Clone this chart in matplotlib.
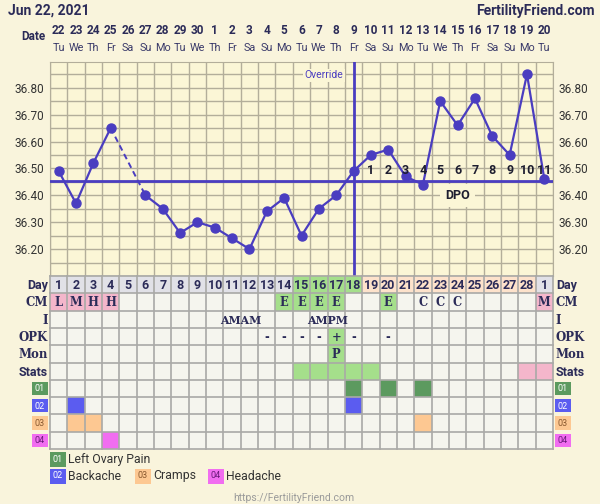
import numpy as np
import matplotlib
matplotlib.use("Agg")
import matplotlib.pyplot as plt
from matplotlib.patches import Rectangle
from matplotlib.transforms import blended_transform_factory

# ---------------- data ----------------
chart_date = "Jun 22, 2021"
site = "FertilityFriend.com"
url_text = "https://FertilityFriend.com"
dates = ["22", "23", "24", "25", "26", "27", "28", "29", "30", "1", "2", "3", "4", "5", "6",
         "7", "8", "9", "10", "11", "12", "13", "14", "15", "16", "17", "18", "19", "20"]
weekdays = ["Tu", "We", "Th", "Fr", "Sa", "Su", "Mo", "Tu", "We", "Th", "Fr", "Sa", "Su", "Mo", "Tu",
            "We", "Th", "Fr", "Sa", "Su", "Mo", "Tu", "We", "Th", "Fr", "Sa", "Su", "Mo", "Tu"]
cycle_days = [str(d) for d in range(1, 29)] + ["1"]
temps = [36.49, 36.37, 36.52, 36.65, np.nan, 36.40, 36.35, 36.26, 36.30, 36.28, 36.24, 36.20,
         36.34, 36.39, 36.25, 36.35, 36.40, 36.49, 36.55, 36.57, 36.47, 36.44, 36.75, 36.66,
         36.76, 36.62, 36.55, 36.85, 36.46]
coverline = 36.455
ovulation_day = 18
temp_ticks = [36.20, 36.30, 36.40, 36.50, 36.60, 36.70, 36.80]

day_phase = ["pre"] * 14 + ["fertile"] * 4 + ["post"] * 10 + ["pre"]
cm_values = {1: "L", 2: "M", 3: "H", 4: "H", 14: "E", 15: "E", 16: "E", 17: "E", 20: "E",
             22: "C", 23: "C", 24: "C", 29: "M"}
intercourse = {11: "AM", 12: "AM", 16: "AM", 17: "PM"}
opk = {13: "-", 14: "-", 15: "-", 16: "-", 17: "+", 18: "-", 20: "-"}
monitor = {17: "P"}
stats_green = [15, 16, 17, 18, 19]
stats_pink = [28, 29]

symptom_codes = ["01", "02", "03", "04"]
symptom_names = ["Left Ovary Pain", "Backache", "Cramps", "Headache"]
symptom_days = [[18, 20, 22], [2, 18], [2, 3, 22], [4]]
symptom_colors = ["#5c9a5f", "#5b5cf0", "#fdc892", "#f16df0"]
symptom_text_colors = ["white", "white", "#8a5a30", "#6a1a7a"]

row_labels = ["Day", "CM", "I", "OPK", "Mon", "Stats"]
row_fonts = ["sans", "serif", "serif", "serif", "serif", "sans"]

# ---------------- style ----------------
W, H = 600, 504
BG = "#f9f4dc"
PLOT_BG = "#fbf6d6"
LINE = "#4a3dc0"
NAVY = "#2b2b58"
GRID = "#b3ae9a"
CELL = "#f5f5ee"
CELL_GRID = "#a9a9a6"
PINK = "#f4b6cb"
GREEN = "#a5df8b"
PEACH = "#fde2cb"
GRAY = "#e1e1e7"
SANS = ["Roboto", "DejaVu Sans"]
SERIF = ["DejaVu Serif"]

plt.rcParams["font.family"] = SANS

def fx(px):
    return px / W

def fy(py):
    return 1 - py / H

fig = plt.figure(figsize=(W / 100, H / 100), dpi=100, facecolor=BG)
n = len(temps)

# ---------------- temperature chart ----------------
ax = fig.add_axes([fx(50), fy(276), 503 / W, 214 / H])
ax.set_facecolor(PLOT_BG)
ymin = 36.10
ymax = ymin + 0.1 * 214 / 26.9
ax.set_xlim(0, n)
ax.set_ylim(ymin, ymax)
for xv in range(n + 1):
    ax.axvline(xv, color=GRID, lw=1.0, zorder=1)
for yv in np.arange(36.10, 36.89, 0.05):
    ax.axhline(yv, color=GRID, lw=1.0, zorder=1)
for s in ax.spines.values():
    s.set_color(GRID)
ax.set_xticks([])
ax.set_yticks(temp_ticks)
ax.set_yticklabels([f"{t:.2f}" for t in temp_ticks])
ax.tick_params(axis="y", length=0, pad=4, labelsize=8.5, labelcolor="#333333",
               labelleft=True, labelright=True)

xs = np.arange(n) + 0.5
t = np.array(temps)
ax.axhline(coverline, color=LINE, lw=2.0, zorder=3)
ax.plot(xs, t, color=LINE, lw=1.6, zorder=4)
valid = np.where(~np.isnan(t))[0]
for a, b in zip(valid[:-1], valid[1:]):
    if b - a > 1:
        ax.plot([xs[a], xs[b]], [t[a], t[b]], color=LINE, lw=1.4, ls=(0, (3, 2)), zorder=4)
ax.plot(xs, t, "o", color=LINE, ms=6.5, zorder=5)
ax.axvline(ovulation_day - 0.5, color=LINE, lw=2.0, zorder=3)
ax.text(ovulation_day - 1.1, 36.846, "Override", color="#4a3dc0", fontsize=7.5, ha="right",
        va="center", zorder=6,
        bbox=dict(boxstyle="square,pad=0.15", fc=PLOT_BG, ec="none"))
for k, d in enumerate(range(ovulation_day + 1, n + 1)):
    ax.text(d - 0.5, coverline + 0.014, str(k + 1), color="#1e1e30", fontsize=9,
            fontweight="bold", ha="center", va="bottom", zorder=6)
ax.text(23.5, 36.40, "DPO", color="#1e1e30", fontsize=9, fontweight="bold", ha="center",
        va="center", zorder=6, bbox=dict(boxstyle="square,pad=0.4", fc=PLOT_BG, ec="none"))

# ---------------- header ----------------
fig.text(fx(8), fy(11), chart_date, color=NAVY, fontsize=10, fontweight="bold", ha="left",
         va="center")
fig.text(fx(595), fy(11), site, color=NAVY, fontsize=10, fontweight="bold", ha="right",
         va="center")
tr = blended_transform_factory(ax.transData, fig.transFigure)
fig.text(fx(46), fy(36), "Date", color=NAVY, fontsize=8.5, fontweight="bold", ha="right",
         va="center")
for i in range(n):
    ax.text(i + 0.5, fy(30), dates[i], transform=tr, color=NAVY, fontsize=8.5,
            fontweight="bold", ha="center", va="center")
    ax.text(i + 0.5, fy(48), weekdays[i], transform=tr, color="#3a3a6a", fontsize=7.8,
            ha="center", va="center")

# ---------------- table ----------------
nrows = 10
tab = fig.add_axes([fx(50), fy(449), 503 / W, 173 / H])
tab.set_xlim(0, n)
tab.set_ylim(nrows, 0)
tab.set_facecolor(CELL)
tab.axis("off")
tab.add_patch(Rectangle((0, 0), n, nrows, fc=CELL, ec="none", zorder=0))

def cell(day, row, color):
    tab.add_patch(Rectangle((day - 1, row), 1, 1, fc=color, ec="none", zorder=1))

def ctext(x, row, s, family=SERIF, size=8.3, color=NAVY):
    tab.text(x, row + 0.55, s, family=family, fontsize=size, fontweight="bold",
             color=color, ha="center", va="center", zorder=3)

phase_colors = {"pre": GRAY, "fertile": GREEN, "post": PEACH}
for i, ph in enumerate(day_phase):
    cell(i + 1, 0, phase_colors[ph])
    ctext(i + 0.5, 0, cycle_days[i], family=SANS, size=9)
for d, v in cm_values.items():
    if v in ("L", "M", "H"):
        cell(d, 1, PINK)
    elif v == "E":
        cell(d, 1, GREEN)
    ctext(d - 0.5, 1, v)
days_i = sorted(intercourse)
groups = []
for d in days_i:
    if groups and d == groups[-1][-1] + 1:
        groups[-1].append(d)
    else:
        groups.append([d])
for g in groups:
    label = "".join(intercourse[d] for d in g)
    ctext((g[0] - 1 + g[-1]) / 2.0, 2, label, size=7.8)
for d, v in opk.items():
    if v == "+":
        cell(d, 3, GREEN)
    ctext(d - 0.5, 3, v)
for d, v in monitor.items():
    cell(d, 4, GREEN)
    ctext(d - 0.5, 4, v)
for d in stats_green:
    cell(d, 5, GREEN)
for d in stats_pink:
    cell(d, 5, PINK)
for k, days in enumerate(symptom_days):
    for d in days:
        cell(d, 6 + k, symptom_colors[k])

for xv in range(n + 1):
    tab.plot([xv, xv], [0, nrows], color=CELL_GRID, lw=1.2, zorder=2, clip_on=False)
for yv in range(nrows + 1):
    tab.plot([0, n], [yv, yv], color=CELL_GRID, lw=1.2, zorder=2, clip_on=False)

for r, (lab, f) in enumerate(zip(row_labels, row_fonts)):
    fam = SANS if f == "sans" else SERIF
    sz = 9 if f == "sans" else 8.5
    tab.text(-0.12, r + 0.55, lab, family=fam, fontsize=sz, fontweight="bold", color=NAVY,
             ha="right", va="center", clip_on=False)
    tab.text(n + 0.17, r + 0.55, lab, family=fam, fontsize=sz, fontweight="bold", color=NAVY,
             ha="left", va="center", clip_on=False)

for k, code in enumerate(symptom_codes):
    r = 6 + k
    for x0 in (-1.04, n + 0.12):
        tab.add_patch(Rectangle((x0, r + 0.12), 0.9, 0.76, fc=symptom_colors[k], ec="none",
                                clip_on=False, zorder=3))
        tab.text(x0 + 0.45, r + 0.52, code, fontsize=6.5, color=symptom_text_colors[k],
                 ha="center", va="center", clip_on=False, zorder=4)

# ---------------- legend ----------------
leg_pos = [(50, 459), (50, 476), (135, 476), (208, 476)]
for k, (px, py) in enumerate(leg_pos):
    fig.patches.append(Rectangle((fx(px), fy(py + 8)), 16 / W, 15 / H, fc=symptom_colors[k],
                                 ec="none", transform=fig.transFigure, figure=fig))
    fig.text(fx(px + 8), fy(py), symptom_codes[k], fontsize=6.5,
             color=symptom_text_colors[k], ha="center", va="center")
    fig.text(fx(px + 18), fy(py), symptom_names[k], fontsize=8.8, color="#333333",
             ha="left", va="center")

# page URL at the very bottom edge, kept fully inside the figure
fig.text(fx(233), fy(503), url_text, fontsize=7.5, color="#9a9a9a", ha="left", va="bottom")

fig.savefig("out.png", dpi=100, facecolor=BG)
